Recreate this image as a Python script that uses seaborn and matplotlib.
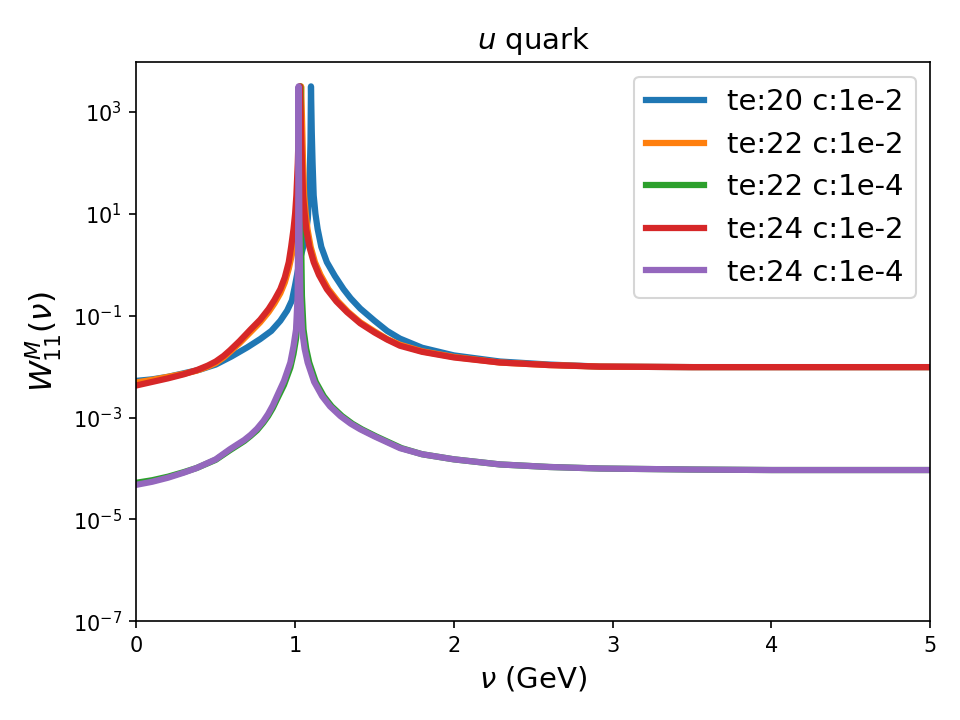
import numpy as np
import pandas as pd
import matplotlib
matplotlib.use('Agg')
import matplotlib.pyplot as plt
import seaborn as sns

# log10(W) values, one pair of lists per series
nu_blue = [0.0, 0.1, 0.2, 0.3, 0.4, 0.5, 0.6, 0.7, 0.78, 0.85, 0.907, 0.95, 0.98, 1.0, 1.03, 1.06,
           1.08, 1.09, 1.097, 1.1, 1.105, 1.11, 1.117, 1.128, 1.142, 1.165, 1.2, 1.25, 1.305, 1.35,
           1.41, 1.5, 1.58, 1.66, 1.8, 2.0, 2.29, 2.6, 2.92, 3.5, 4.0, 5.0]
logw_blue = [-2.28, -2.25, -2.2, -2.13, -2.06, -1.96, -1.8, -1.62, -1.46, -1.3, -1.1, -0.9, -0.7, -0.4,
             0.1, 0.45, 0.9, 1.5, 2.4, 3.5, 2.6, 2.0, 1.36, 1.0, 0.7, 0.35, 0.05, -0.22, -0.48, -0.66,
             -0.86, -1.1, -1.3, -1.45, -1.63, -1.78, -1.9, -1.96, -2.0, -2.01, -2.01, -2.01]

nu_orange = [0.0, 0.1, 0.2, 0.3, 0.38, 0.45, 0.5, 0.55, 0.59, 0.65, 0.72, 0.78, 0.833, 0.87, 0.907,
             0.935, 0.96, 0.98, 0.995, 1.007, 1.016, 1.025, 1.032, 1.038, 1.044, 1.05, 1.057, 1.067,
             1.078, 1.098, 1.125, 1.16, 1.21, 1.27, 1.335, 1.41, 1.5, 1.58, 1.66, 1.8, 2.0, 2.29,
             2.6, 2.92, 3.5, 4.0, 5.0]
logw_orange = [-2.31, -2.26, -2.2, -2.14, -2.08, -2.0, -1.93, -1.82, -1.71, -1.54, -1.32, -1.13, -0.93, -0.76, -0.56,
               -0.35, -0.08, 0.2, 0.55, 0.9, 1.36, 2.0, 2.8, 3.5, 2.8, 2.0, 1.36, 1.0,
               0.7, 0.35, 0.05, -0.2, -0.48, -0.72, -0.93, -1.13, -1.31, -1.46, -1.57, -1.7, -1.81, -1.92,
               -1.97, -2.0, -2.01, -2.01, -2.01]

nu_green = [0.0, 0.1, 0.2, 0.3, 0.38, 0.5, 0.59, 0.68, 0.72, 0.76, 0.8, 0.83, 0.86, 0.886, 0.93, 0.97,
            0.99, 1.006, 1.016, 1.024, 1.028, 1.031, 1.032, 1.034, 1.038, 1.043, 1.053, 1.07, 1.089,
            1.13, 1.18, 1.23, 1.295, 1.36, 1.42, 1.51, 1.67, 1.8, 2.0, 2.29, 2.6, 2.92, 3.5, 4.0, 5.0]
logw_green = [-4.28, -4.23, -4.16, -4.07, -3.99, -3.83, -3.64, -3.46, -3.36, -3.25, -3.1, -2.97, -2.81, -2.64, -2.36,
              -2.02, -1.75, -1.45, -1.0, -0.3, 0.5, 2.0, 3.5, 2.0, 0.5, -0.61, -1.27, -1.65, -1.92,
              -2.3, -2.58, -2.78, -2.97, -3.12, -3.23, -3.37, -3.6, -3.72, -3.82, -3.92, -3.97, -4.0, -4.02,
              -4.03, -4.03]

nu_red = [0.0, 0.1, 0.2, 0.3, 0.38, 0.45, 0.5, 0.55, 0.59, 0.65, 0.72, 0.78, 0.833, 0.87, 0.907,
          0.935, 0.96, 0.975, 0.99, 1.0, 1.008, 1.017, 1.024, 1.03, 1.036, 1.043, 1.05, 1.06, 1.07,
          1.09, 1.117, 1.15, 1.2, 1.26, 1.327, 1.41, 1.5, 1.58, 1.66, 1.8, 2.0, 2.29, 2.6, 2.92,
          3.5, 4.0, 5.0]
logw_red = [-2.37, -2.3, -2.23, -2.15, -2.07, -1.98, -1.9, -1.79, -1.68, -1.5, -1.27, -1.08, -0.87, -0.69, -0.48,
            -0.25, 0.05, 0.35, 0.7, 1.0, 1.36, 2.0, 2.8, 3.5, 2.8, 2.0, 1.36, 1.0, 0.7,
            0.35, 0.05, -0.2, -0.48, -0.72, -0.93, -1.15, -1.33, -1.47, -1.59, -1.71, -1.82, -1.92, -1.97, -2.0,
            -2.01, -2.01, -2.01]

nu_purple = [0.0, 0.1, 0.2, 0.3, 0.38, 0.5, 0.59, 0.68, 0.72, 0.76, 0.8, 0.83, 0.86, 0.886, 0.93, 0.97,
             0.99, 1.006, 1.016, 1.019, 1.021, 1.022, 1.024, 1.028, 1.033, 1.043, 1.06, 1.079, 1.12,
             1.17, 1.22, 1.285, 1.35, 1.41, 1.5, 1.66, 1.8, 2.0, 2.29, 2.6, 2.92, 3.5, 4.0, 5.0]
logw_purple = [-4.32, -4.26, -4.18, -4.08, -3.99, -3.82, -3.62, -3.44, -3.34, -3.22, -3.07, -2.93, -2.76, -2.58, -2.28,
               -1.92, -1.6, -1.27, -0.61, 0.5, 2.0, 3.5, 2.0, 0.5, -0.61, -1.27, -1.65, -1.92, -2.3,
               -2.58, -2.78, -2.97, -3.12, -3.23, -3.37, -3.6, -3.72, -3.82, -3.92, -3.97, -4.0, -4.02,
               -4.03, -4.03]

labels = ['te:20 c:1e-2', 'te:22 c:1e-2', 'te:22 c:1e-4', 'te:24 c:1e-2', 'te:24 c:1e-4']
colors = ['#1f77b4', '#ff7f0e', '#2ca02c', '#d62728', '#9467bd']
series = [(nu_blue, logw_blue), (nu_orange, logw_orange), (nu_green, logw_green),
          (nu_red, logw_red), (nu_purple, logw_purple)]

fig, ax = plt.subplots(figsize=(6.4, 4.8), dpi=150)
for (nu, logw), lab, col in zip(series, labels, colors):
    df = pd.DataFrame({'nu': nu, 'W': 10.0 ** np.array(logw)})
    sns.lineplot(data=df, x='nu', y='W', ax=ax, color=col, lw=3, label=lab,
                 estimator=None, sort=False)

ax.set_yscale('log')
ax.set_xlim(0, 5)
ax.set_ylim(1e-7, 10 ** 3.98)
ax.set_title('$u$ quark', fontsize=14)
ax.set_xlabel(r'$\nu$ (GeV)', fontsize=14)
ax.set_ylabel(r'$W^M_{11}(\nu)$', fontsize=15)
ax.legend(loc='upper right', fontsize=14)

plt.subplots_adjust(left=0.142, right=0.969, top=0.914, bottom=0.137)
plt.savefig('out.png', dpi=150)
